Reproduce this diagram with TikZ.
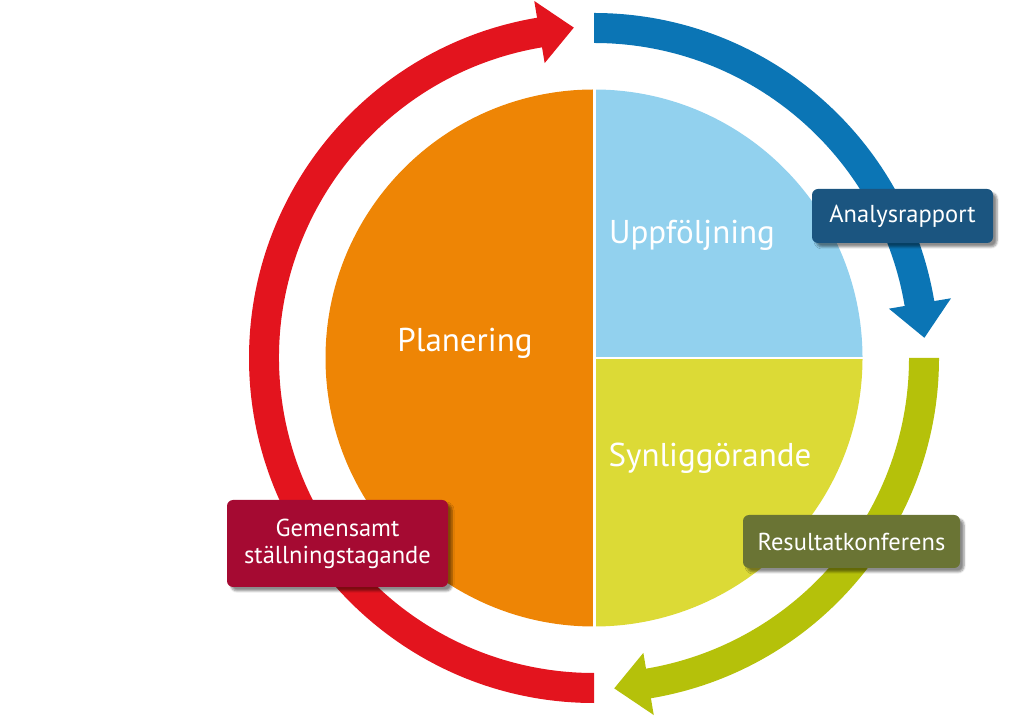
\documentclass[tikz,border=0pt]{standalone}
\usepackage{fontspec}
\setmainfont{PT Sans}
\usetikzlibrary{shadows.blur}
\definecolor{cOrange}{HTML}{EE8505}
\definecolor{cLBlue}{HTML}{92D1EE}
\definecolor{cYellow}{HTML}{DCDA36}
\definecolor{cRed}{HTML}{E3141E}
\definecolor{cBlue}{HTML}{0B75B5}
\definecolor{cGreen}{HTML}{B5C10A}
\definecolor{cBoxBlue}{HTML}{1B5580}
\definecolor{cBoxRed}{HTML}{A50A32}
\definecolor{cBoxOlive}{HTML}{6A7434}
% #1 colour, #2 start angle, #3 span
\newcommand{\ringarrow}[3]{%
  \fill[#1] ([shift={(C)}]#2:345) arc[start angle=#2, end angle=#2-#3+9.5, radius=345]
    -- ([shift={(C)}]#2-#3+9.5:362) -- ([shift={(C)}]#2-#3+3.5:331) -- ([shift={(C)}]#2-#3+9.5:299)
    -- ([shift={(C)}]#2-#3+9.5:315) arc[start angle=#2-#3+9.5, end angle=#2, radius=315] -- cycle;}
\tikzset{
  label box/.style={fill=#1, rounded corners=6pt, text=white, align=center, inner sep=0pt,
    blur shadow={shadow xshift=4pt, shadow yshift=-4pt, shadow blur steps=6, shadow opacity=45}},
  big label/.style={text=white, anchor=base, font=\fontsize{33}{38}\selectfont},
  box font/.style={font=\fontsize{24.5}{27}\selectfont}
}
\begin{document}
\begin{tikzpicture}[x=1pt,y=1pt]
\useasboundingbox (0,0) rectangle (1024,717);
\coordinate (C) at (594,359);
% circle quadrants
\fill[cOrange] ([shift={(C)}]90:268.5) arc[start angle=90, end angle=270, radius=268.5] -- cycle;
\fill[cLBlue] (C) -- ([shift={(C)}]0:268.5) arc[start angle=0, end angle=90, radius=268.5] -- cycle;
\fill[cYellow] (C) -- ([shift={(C)}]-90:268.5) arc[start angle=-90, end angle=0, radius=268.5] -- cycle;
\draw[white, line width=3pt] ([shift={(C)}]0,270) -- ([shift={(C)}]0,-270);
\draw[white, line width=2.5pt] (C) -- ([shift={(C)}]270,0);
% ring arrows
\ringarrow{cBlue}{90}{90}
\ringarrow{cGreen}{0}{90}
\ringarrow{cRed}{270}{180}
% quadrant labels
\node[big label] (plan) at (465,365) {Planering};
\node[big label] (upp) at (692,473) {Uppföljning};
\node[big label] (syn) at (710,250) {Synliggörande};
% boxes
\node[label box=cBoxBlue, box font, minimum width=181pt, minimum height=54pt] (ana) at (902.5,501) {Analysrapport};
\node[label box=cBoxRed, box font, minimum width=221pt, minimum height=87pt] (gem) at (337.5,173.5) {Gemensamt\\ställningstagande};
\node[label box=cBoxOlive, box font, minimum width=217pt, minimum height=53pt] (res) at (851.5,175.5) {Resultatkonferens};
\end{tikzpicture}
\end{document}
